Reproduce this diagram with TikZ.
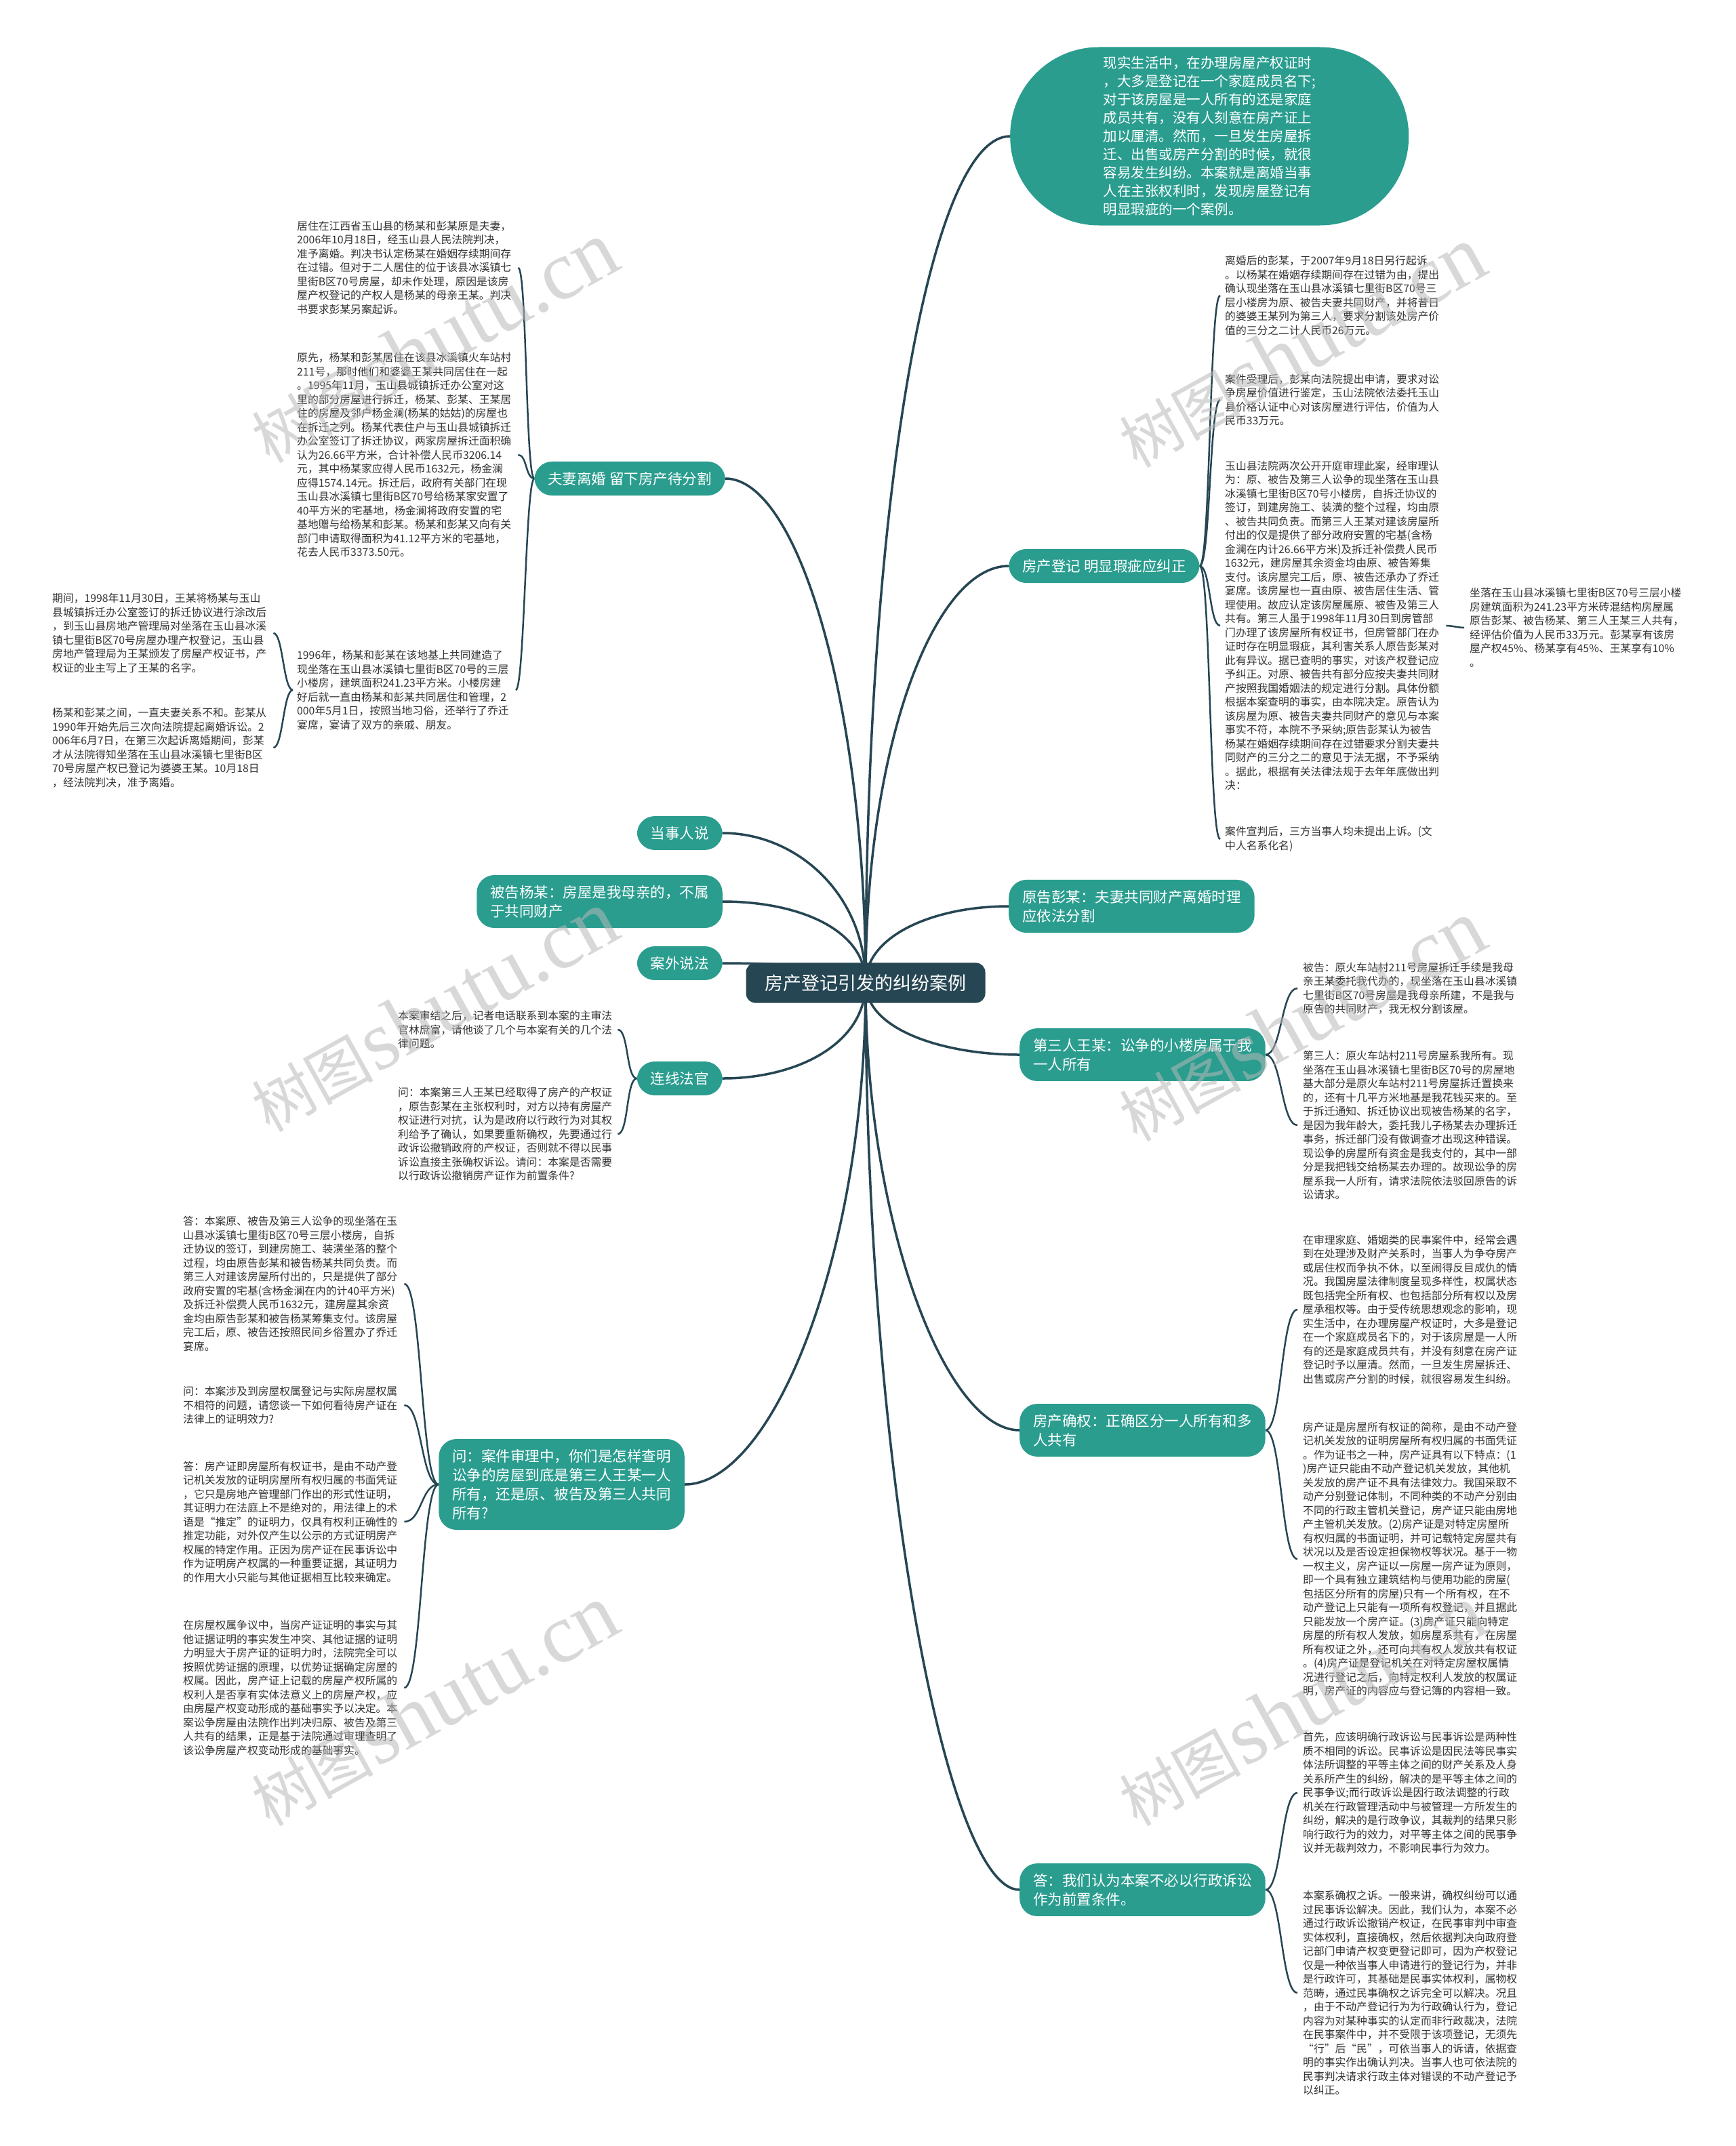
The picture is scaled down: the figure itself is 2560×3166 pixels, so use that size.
\documentclass[tikz,border=0pt]{standalone}
\usepackage{fontspec}
\setmainfont{Noto Sans CJK SC}
\newfontfamily\wmfont{Liberation Serif}
\definecolor{cdark}{HTML}{264653}
\definecolor{cteal}{HTML}{2A9D8F}
\definecolor{ctext}{HTML}{333333}
\definecolor{cwm}{HTML}{B8B8B8}
\pgfdeclarelayer{bg}
\pgfsetlayers{bg,main}
\tikzset{
  root/.style={fill=cdark, text=white, rounded corners=14pt, inner xsep=28pt, inner ysep=17pt, font=\fontsize{27}{34}\selectfont},
  lvone/.style={fill=cteal, text=white, rounded corners=26pt, inner xsep=20pt, inner ysep=15pt, align=left, font=\fontsize{21.5}{28}\selectfont},
  bubble/.style={fill=cteal, text=white, rounded corners=131pt, minimum width=588pt, minimum height=263pt, inner sep=0pt, align=left, font=\fontsize{20.5}{27}\selectfont},
  leaf/.style={text=ctext, inner sep=0pt, align=left, font=\fontsize{15.8}{20.5}\selectfont},
  mainline/.style={draw=cdark, line width=3.5pt},
  subline/.style={draw=cdark, line width=2.5pt},
  wmark/.style={text=cwm, text opacity=0.55, rotate=29, inner sep=0pt},
}
\begin{document}
\begin{tikzpicture}[x=1pt,y=-1pt]
\useasboundingbox (0,0) rectangle (2560,3166);
% center
\node[root] (c) at (1277,1450) {房产登记引发的纠纷案例};
% left level one
\node[lvone, anchor=east] (n1) at (1070,706) {夫妻离婚 留下房产待分割};
\node[lvone, anchor=east] (n2) at (1066,1229) {当事人说};
\node[lvone, anchor=east] (n3) at (1066,1330) {被告杨某：房屋是我母亲的，不属\\于共同财产};
\node[lvone, anchor=east] (n4) at (1066,1421) {案外说法};
\node[lvone, anchor=east] (n5) at (1066,1591) {连线法官};
\node[lvone, anchor=east] (n6) at (1010,2190) {问：案件审理中，你们是怎样查明\\讼争的房屋到底是第三人王某一人\\所有，还是原、被告及第三人共同\\所有?};
% right level one
\node[bubble, anchor=west] (bub) at (1490,201) {现实生活中，在办理房屋产权证时\\，大多是登记在一个家庭成员名下;\\对于该房屋是一人所有的还是家庭\\成员共有，没有人刻意在房产证上\\加以厘清。然而，一旦发生房屋拆\\迁、出售或房产分割的时候，就很\\容易发生纠纷。本案就是离婚当事\\人在主张权利时，发现房屋登记有\\明显瑕疵的一个案例。};
\node[lvone, anchor=west] (r1) at (1488,835) {房产登记 明显瑕疵应纠正};
\node[lvone, anchor=west] (r2) at (1488,1337) {原告彭某：夫妻共同财产离婚时理\\应依法分割};
\node[lvone, anchor=west] (r3) at (1504,1556) {第三人王某：讼争的小楼房属于我\\一人所有};
\node[lvone, anchor=west] (r4) at (1504,2110) {房产确权：正确区分一人所有和多\\人共有};
\node[lvone, anchor=west] (r5) at (1504,2788) {答：我们认为本案不必以行政诉讼\\作为前置条件。};
% left leaves
\node[leaf, anchor=west] (a) at (438,395) {居住在江西省玉山县的杨某和彭某原是夫妻，\\2006年10月18日，经玉山县人民法院判决，\\准予离婚。判决书认定杨某在婚姻存续期间存\\在过错。但对于二人居住的位于该县冰溪镇七\\里街B区70号房屋，却未作处理，原因是该房\\屋产权登记的产权人是杨某的母亲王某。判决\\书要求彭某另案起诉。};
\node[leaf, anchor=west] (b) at (438,671) {原先，杨某和彭某居住在该县冰溪镇火车站村\\211号，那时他们和婆婆王某共同居住在一起\\。1995年11月，玉山县城镇拆迁办公室对这\\里的部分房屋进行拆迁，杨某、彭某、王某居\\住的房屋及邻户杨金澜(杨某的姑姑)的房屋也\\在拆迁之列。杨某代表住户与玉山县城镇拆迁\\办公室签订了拆迁协议，两家房屋拆迁面积确\\认为26.66平方米，合计补偿人民币3206.14\\元，其中杨某家应得人民币1632元，杨金澜\\应得1574.14元。拆迁后，政府有关部门在现\\玉山县冰溪镇七里街B区70号给杨某家安置了\\40平方米的宅基地，杨金澜将政府安置的宅\\基地赠与给杨某和彭某。杨某和彭某又向有关\\部门申请取得面积为41.12平方米的宅基地，\\花去人民币3373.50元。};
\node[leaf, anchor=west] (cc) at (438,1018) {1996年，杨某和彭某在该地基上共同建造了\\现坐落在玉山县冰溪镇七里街B区70号的三层\\小楼房，建筑面积241.23平方米。小楼房建\\好后就一直由杨某和彭某共同居住和管理，2\\000年5月1日，按照当地习俗，还举行了乔迁\\宴席，宴请了双方的亲戚、朋友。};
\node[leaf, anchor=west] (d) at (77,934) {期间，1998年11月30日，王某将杨某与玉山\\县城镇拆迁办公室签订的拆迁协议进行涂改后\\，到玉山县房地产管理局对坐落在玉山县冰溪\\镇七里街B区70号房屋办理产权登记，玉山县\\房地产管理局为王某颁发了房屋产权证书，产\\权证的业主写上了王某的名字。};
\node[leaf, anchor=west] (e) at (77,1103) {杨某和彭某之间，一直夫妻关系不和。彭某从\\1990年开始先后三次向法院提起离婚诉讼。2\\006年6月7日，在第三次起诉离婚期间，彭某\\才从法院得知坐落在玉山县冰溪镇七里街B区\\70号房屋产权已登记为婆婆王某。10月18日\\，经法院判决，准予离婚。};
\node[leaf, anchor=west] (i1) at (587,1519) {本案审结之后，记者电话联系到本案的主审法\\官林庶富，请他谈了几个与本案有关的几个法\\律问题。};
\node[leaf, anchor=west] (i2) at (587,1673) {问：本案第三人王某已经取得了房产的产权证\\，原告彭某在主张权利时，对方以持有房屋产\\权证进行对抗，认为是政府以行政行为对其权\\利给予了确认，如果要重新确权，先要通过行\\政诉讼撤销政府的产权证，否则就不得以民事\\诉讼直接主张确权诉讼。请问：本案是否需要\\以行政诉讼撤销房产证作为前置条件?};
\node[leaf, anchor=west] (j1) at (270,1894) {答：本案原、被告及第三人讼争的现坐落在玉\\山县冰溪镇七里街B区70号三层小楼房，自拆\\迁协议的签订，到建房施工、装潢坐落的整个\\过程，均由原告彭某和被告杨某共同负责。而\\第三人对建该房屋所付出的，只是提供了部分\\政府安置的宅基(含杨金澜在内的计40平方米)\\及拆迁补偿费人民币1632元，建房屋其余资\\金均由原告彭某和被告杨某筹集支付。该房屋\\完工后，原、被告还按照民间乡俗置办了乔迁\\宴席。};
\node[leaf, anchor=west] (j2) at (270,2073) {问：本案涉及到房屋权属登记与实际房屋权属\\不相符的问题，请您谈一下如何看待房产证在\\法律上的证明效力?};
\node[leaf, anchor=west] (j3) at (270,2245) {答：房产证即房屋所有权证书，是由不动产登\\记机关发放的证明房屋所有权归属的书面凭证\\，它只是房地产管理部门作出的形式性证明，\\其证明力在法庭上不是绝对的，用法律上的术\\语是“推定”的证明力，仅具有权利正确性的\\推定功能，对外仅产生以公示的方式证明房产\\权属的特定作用。正因为房产证在民事诉讼中\\作为证明房产权属的一种重要证据，其证明力\\的作用大小只能与其他证据相互比较来确定。};
\node[leaf, anchor=west] (j4) at (270,2490) {在房屋权属争议中，当房产证证明的事实与其\\他证据证明的事实发生冲突、其他证据的证明\\力明显大于房产证的证明力时，法院完全可以\\按照优势证据的原理，以优势证据确定房屋的\\权属。因此，房产证上记载的房屋产权所属的\\权利人是否享有实体法意义上的房屋产权，应\\由房屋产权变动形成的基础事实予以决定。本\\案讼争房屋由法院作出判决归原、被告及第三\\人共有的结果，正是基于法院通过审理查明了\\该讼争房屋产权变动形成的基础事实。};
% right leaves
\node[leaf, anchor=west] (f1) at (1807,436) {离婚后的彭某，于2007年9月18日另行起诉\\。以杨某在婚姻存续期间存在过错为由，提出\\确认现坐落在玉山县冰溪镇七里街B区70号三\\层小楼房为原、被告夫妻共同财产，并将昔日\\的婆婆王某列为第三人，要求分割该处房产价\\值的三分之二计人民币26万元。};
\node[leaf, anchor=west] (f2) at (1807,590) {案件受理后，彭某向法院提出申请，要求对讼\\争房屋价值进行鉴定，玉山法院依法委托玉山\\县价格认证中心对该房屋进行评估，价值为人\\民币33万元。};
\node[leaf, anchor=west] (f3) at (1807,923) {玉山县法院两次公开开庭审理此案，经审理认\\为：原、被告及第三人讼争的现坐落在玉山县\\冰溪镇七里街B区70号小楼房，自拆迁协议的\\签订，到建房施工、装潢的整个过程，均由原\\、被告共同负责。而第三人王某对建该房屋所\\付出的仅是提供了部分政府安置的宅基(含杨\\金澜在内计26.66平方米)及拆迁补偿费人民币\\1632元，建房屋其余资金均由原、被告筹集\\支付。该房屋完工后，原、被告还承办了乔迁\\宴席。该房屋也一直由原、被告居住生活、管\\理使用。故应认定该房屋属原、被告及第三人\\共有。第三人虽于1998年11月30日到房管部\\门办理了该房屋所有权证书，但房管部门在办\\证时存在明显瑕疵，其利害关系人原告彭某对\\此有异议。据已查明的事实，对该产权登记应\\予纠正。对原、被告共有部分应按夫妻共同财\\产按照我国婚姻法的规定进行分割。具体份额\\根据本案查明的事实，由本院决定。原告认为\\该房屋为原、被告夫妻共同财产的意见与本案\\事实不符，本院不予采纳;原告彭某认为被告\\杨某在婚姻存续期间存在过错要求分割夫妻共\\同财产的三分之二的意见于法无据，不予采纳\\。据此，根据有关法律法规于去年年底做出判\\决：};
\node[leaf, anchor=west] (f4) at (1807,1238) {案件宣判后，三方当事人均未提出上诉。(文\\中人名系化名)};
\node[leaf, anchor=west] (g) at (2168,926) {坐落在玉山县冰溪镇七里街B区70号三层小楼\\房建筑面积为241.23平方米砖混结构房屋属\\原告彭某、被告杨某、第三人王某三人共有，\\经评估价值为人民币33万元。彭某享有该房\\屋产权45\%、杨某享有45\%、王某享有10\%\\。};
\node[leaf, anchor=west] (h1) at (1922,1458) {被告：原火车站村211号房屋拆迁手续是我母\\亲王某委托我代办的，现坐落在玉山县冰溪镇\\七里街B区70号房屋是我母亲所建，不是我与\\原告的共同财产，我无权分割该屋。};
\node[leaf, anchor=west] (h2) at (1922,1660) {第三人：原火车站村211号房屋系我所有。现\\坐落在玉山县冰溪镇七里街B区70号的房屋地\\基大部分是原火车站村211号房屋拆迁置换来\\的，还有十几平方米地基是我花钱买来的。至\\于拆迁通知、拆迁协议出现被告杨某的名字，\\是因为我年龄大，委托我儿子杨某去办理拆迁\\事务，拆迁部门没有做调查才出现这种错误。\\现讼争的房屋所有资金是我支付的，其中一部\\分是我把钱交给杨某去办理的。故现讼争的房\\屋系我一人所有，请求法院依法驳回原告的诉\\讼请求。};
\node[leaf, anchor=west] (k1) at (1922,1932) {在审理家庭、婚姻类的民事案件中，经常会遇\\到在处理涉及财产关系时，当事人为争夺房产\\或居住权而争执不休，以至闹得反目成仇的情\\况。我国房屋法律制度呈现多样性，权属状态\\既包括完全所有权、也包括部分所有权以及房\\屋承租权等。由于受传统思想观念的影响，现\\实生活中，在办理房屋产权证时，大多是登记\\在一个家庭成员名下的，对于该房屋是一人所\\有的还是家庭成员共有，并没有刻意在房产证\\登记时予以厘清。然而，一旦发生房屋拆迁、\\出售或房产分割的时候，就很容易发生纠纷。};
\node[leaf, anchor=west] (k2) at (1922,2300) {房产证是房屋所有权证的简称，是由不动产登\\记机关发放的证明房屋所有权归属的书面凭证\\。作为证书之一种，房产证具有以下特点：(1\\)房产证只能由不动产登记机关发放，其他机\\关发放的房产证不具有法律效力。我国采取不\\动产分别登记体制，不同种类的不动产分别由\\不同的行政主管机关登记，房产证只能由房地\\产主管机关发放。(2)房产证是对特定房屋所\\有权归属的书面证明，并可记载特定房屋共有\\状况以及是否设定担保物权等状况。基于一物\\一权主义，房产证以一房屋一房产证为原则，\\即一个具有独立建筑结构与使用功能的房屋(\\包括区分所有的房屋)只有一个所有权，在不\\动产登记上只能有一项所有权登记，并且据此\\只能发放一个房产证。(3)房产证只能向特定\\房屋的所有权人发放，如房屋系共有，在房屋\\所有权证之外，还可向共有权人发放共有权证\\。(4)房产证是登记机关在对特定房屋权属情\\况进行登记之后，向特定权利人发放的权属证\\明，房产证的内容应与登记簿的内容相一致。};
\node[leaf, anchor=west] (l1) at (1922,2645) {首先，应该明确行政诉讼与民事诉讼是两种性\\质不相同的诉讼。民事诉讼是因民法等民事实\\体法所调整的平等主体之间的财产关系及人身\\关系所产生的纠纷，解决的是平等主体之间的\\民事争议;而行政诉讼是因行政法调整的行政\\机关在行政管理活动中与被管理一方所发生的\\纠纷，解决的是行政争议，其裁判的结果只影\\响行政行为的效力，对平等主体之间的民事争\\议并无裁判效力，不影响民事行为效力。};
\node[leaf, anchor=west] (l2) at (1922,2940) {本案系确权之诉。一般来讲，确权纠纷可以通\\过民事诉讼解决。因此，我们认为，本案不必\\通过行政诉讼撤销产权证，在民事审判中审查\\实体权利，直接确权，然后依据判决向政府登\\记部门申请产权变更登记即可，因为产权登记\\仅是一种依当事人申请进行的登记行为，并非\\是行政许可，其基础是民事实体权利，属物权\\范畴，通过民事确权之诉完全可以解决。况且\\，由于不动产登记行为为行政确认行为，登记\\内容为对某种事实的认定而非行政裁决，法院\\在民事案件中，并不受限于该项登记，无须先\\“行”后“民”，可依当事人的诉请，依据查\\明的事实作出确认判决。当事人也可依法院的\\民事判决请求行政主体对错误的不动产登记予\\以纠正。};
% connectors
\begin{pgfonlayer}{bg}
\fill[white] (0,0) rectangle (2560,3166);
\draw[mainline] (c.center) .. controls +(0,-700) and +(-120,0) .. (bub.west);
\draw[mainline] (c.center) .. controls +(0,-350) and +(-110,0) .. (r1.west);
\draw[mainline] (c.center) .. controls +(0,-70) and +(-110,0) .. (r2.west);
\draw[mainline] (c.center) .. controls +(0,70) and +(-110,0) .. (r3.west);
\draw[mainline] (c.center) .. controls +(0,350) and +(-110,0) .. (r4.west);
\draw[mainline] (c.center) .. controls +(0,700) and +(-110,0) .. (r5.west);
\draw[mainline] (c.center) .. controls +(0,-400) and +(110,0) .. (n1.east);
\draw[mainline] (c.center) .. controls +(0,-130) and +(110,0) .. (n2.east);
\draw[mainline] (c.center) .. controls +(0,-80) and +(110,0) .. (n3.east);
\draw[mainline] (c.center) .. controls +(0,-20) and +(100,0) .. (n4.east);
\draw[mainline] (c.center) .. controls +(0,90) and +(110,0) .. (n5.east);
\draw[mainline] (c.center) .. controls +(0,400) and +(130,0) .. (n6.east);
% brackets left
\foreach \t in {a,b,cc} \draw[subline] (n1.west) to[out=180,in=0,distance=13pt] ([xshift=10pt]\t.east);
\foreach \t in {d,e} \draw[subline] ([xshift=-6pt]cc.west) to[out=180,in=0,distance=14pt] ([xshift=10pt]\t.east);
\foreach \t in {i1,i2} \draw[subline] (n5.west) to[out=180,in=0,distance=16pt] ([xshift=8pt]\t.east);
\foreach \t in {j1,j2,j3,j4} \draw[subline] (n6.west) to[out=180,in=0,distance=26pt] ([xshift=10pt]\t.east);
% brackets right
\foreach \t in {f1,f2,f3,f4} \draw[subline] (r1.east) to[out=0,in=180,distance=16pt] ([xshift=-7pt]\t.west);
\draw[subline] ([xshift=10pt]f3.east) to[out=0,in=180,distance=8pt] ([xshift=-8pt]g.west);
\foreach \t in {h1,h2} \draw[subline] (r3.east) to[out=0,in=180,distance=24pt] ([xshift=-8pt]\t.west);
\foreach \t in {k1,k2} \draw[subline] (r4.east) to[out=0,in=180,distance=24pt] ([xshift=-8pt]\t.west);
\foreach \t in {l1,l2} \draw[subline] (r5.east) to[out=0,in=180,distance=24pt] ([xshift=-8pt]\t.west);
\end{pgfonlayer}
% watermarks
\foreach \wx/\wy [count=\wi] in {640/505, 1920/512, 640/1492, 1920/1506, 640/2516, 1920/2516}
  \node[wmark] (wm\wi) at (\wx,\wy) {{\fontsize{90}{90}\selectfont 树图} {\wmfont\fontsize{124}{124}\selectfont shutu.cn}};
\end{tikzpicture}
\end{document}
